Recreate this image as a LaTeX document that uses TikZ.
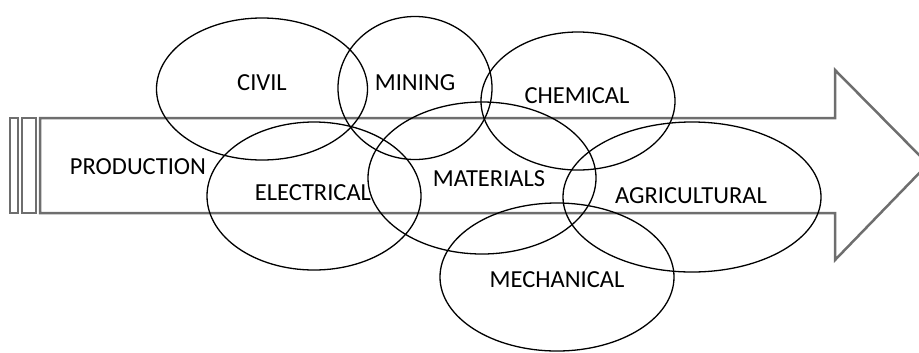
\documentclass[tikz,border=0pt]{standalone}
\usepackage{fontspec}
\setmainfont{Carlito}
\usetikzlibrary{shapes.geometric}
\begin{document}
\begin{tikzpicture}[x=1bp,y=-1bp,
  arrowline/.style={draw={rgb,255:red,110;green,110;blue,110}, line width=2.5bp, line join=miter},
  disc/.style={ellipse, draw=black, line width=1.3bp, inner sep=0pt},
  lbl/.style={inner sep=0pt, text=black, font=\fontsize{24.5bp}{29bp}\selectfont}]
\useasboundingbox (0,0) rectangle (919,352);
\clip (0,0) rectangle (919,352);
% arrow
\draw[arrowline] (40,118) coordinate (bodyTL) -- (835,118) -- (835,70) -- (928,164) coordinate (tip)
  -- (835,260) -- (835,213) -- (40,213) -- cycle;
\draw[arrowline] (10,118) rectangle (18,213);
\draw[arrowline] (22,118) rectangle (36,213);
% ellipses
\node[disc, minimum width=211bp, minimum height=142bp] (civil) at (262,89) {};
\node[disc, minimum width=154bp, minimum height=143bp] (mining) at (415,88) {};
\node[disc, minimum width=194bp, minimum height=138bp] (chemical) at (578,101) {};
\node[disc, minimum width=228bp, minimum height=152bp] (materials) at (482,178) {};
\node[disc, minimum width=214bp, minimum height=148bp] (electrical) at (314,196) {};
\node[disc, minimum width=258bp, minimum height=150bp] (agricultural) at (692,197) {};
\node[disc, minimum width=234bp, minimum height=148bp] (mechanical) at (557,277) {};
% labels
\node[lbl] (tcivil) at (262,83) {CIVIL};
\node[lbl] (tmining) at (415,83) {MINING};
\node[lbl] (tchemical) at (577,96) {CHEMICAL};
\node[lbl] (tproduction) at (138,167) {PRODUCTION};
\node[lbl] (telectrical) at (313,193) {ELECTRICAL};
\node[lbl] (tmaterials) at (489,179) {MATERIALS};
\node[lbl] (tagricultural) at (691,196) {AGRICULTURAL};
\node[lbl] (tmechanical) at (557,280) {MECHANICAL};
\end{tikzpicture}
\end{document}
